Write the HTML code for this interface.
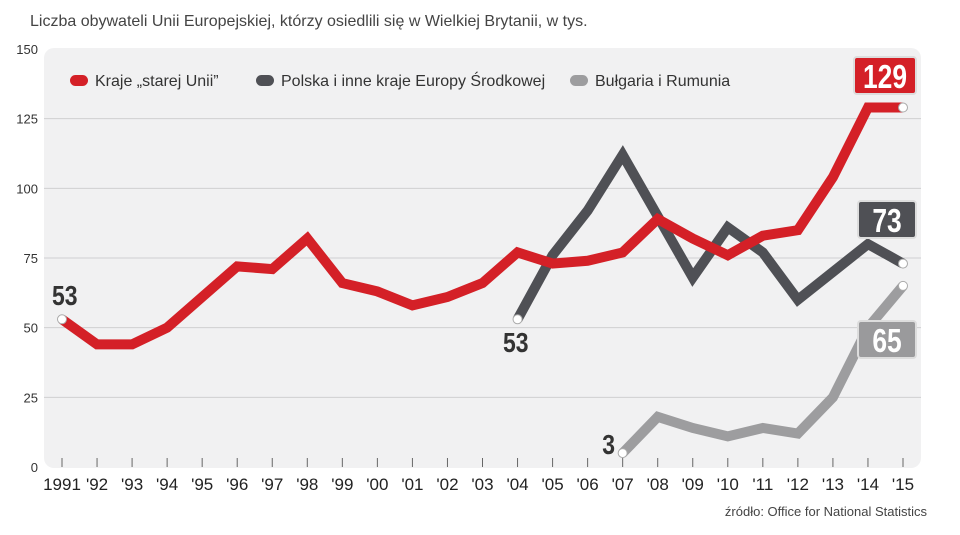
<!DOCTYPE html>
<html><head><meta charset="utf-8">
<style>
body{margin:0;background:#fff;width:960px;height:535px;overflow:hidden;font-family:"Liberation Sans",sans-serif;}
svg{display:block}
</style></head>
<body>
<svg id="chart" width="960" height="535" viewBox="0 0 960 535" xmlns="http://www.w3.org/2000/svg">
<text x="30" y="26" font-size="16" fill="#444" font-family="Liberation Sans, sans-serif">Liczba obywateli Unii Europejskiej, którzy osiedlili się w Wielkiej Brytanii, w tys.</text>
<rect x="44" y="48" width="877" height="420" rx="10" fill="#f1f1f2"/>
<g id="grid"></g>
<g id="lines"></g>
<g id="legend"></g>
<text x="927" y="516" font-size="13" fill="#444" text-anchor="end">źródło: Office for National Statistics</text>
</svg>
<script>
const years = ['1991',"'92","'93","'94","'95","'96","'97","'98","'99","'00","'01","'02","'03","'04","'05","'06","'07","'08","'09","'10","'11","'12","'13","'14","'15"];
const yTicks = [0,25,50,75,100,125,150];
const oldEU = [53,44,44,50,61,72,71,82,66,63,58,61,66,77,73,74,77,89,82,76,83,85,104,129,129];
const centralEU = [null,null,null,null,null,null,null,null,null,null,null,null,null,53,76,92,112,90,68,86,77,60,70,80,73];
const bgRo = [null,null,null,null,null,null,null,null,null,null,null,null,null,null,null,null,5,18,14,11,14,12,25,50,65];
const startLabels = ['53','53','3'];
const endLabels = ['129','73','65'];
const legendNames = ['Kraje „starej Unii”','Polska i inne kraje Europy Środkowej','Bułgaria i Rumunia'];

const NS='http://www.w3.org/2000/svg';
const x0=62,x1=903,yBase=467,yTop=49;
const xs=i=>x0+(x1-x0)*i/(years.length-1);
const ys=v=>yBase-(yBase-yTop)*v/150;
function mk(tag,attrs,parent){const e=document.createElementNS(NS,tag);for(const k in attrs)e.setAttribute(k,attrs[k]);parent.appendChild(e);return e;}
const grid=document.getElementById('grid');
yTicks.forEach(t=>{
  if(t>0&&t<150){const l=mk('line',{x1:44,x2:921,y1:ys(t),y2:ys(t),stroke:'#cfcfd1','stroke-width':1},grid);
  
  }
  const tx=mk('text',{x:38,y:ys(t)+5,'font-size':13,fill:'#333','text-anchor':'end'},grid);
  tx.textContent=t;
  
  
});
years.forEach((y,i)=>{
  const l=mk('line',{x1:xs(i),x2:xs(i),y1:458,y2:467,stroke:'#666','stroke-width':1},grid);
  
  
  const tx=mk('text',{x:xs(i),y:490,'font-size':17,fill:'#222','text-anchor':'middle'},grid);
  tx.textContent=y;
  
  
});
const series=[
 {d:oldEU,c:'#d42027',lbl:'#d42027',name:'old-eu',sl:[52,305],ed:[854,57],w:62},
 {d:centralEU,c:'#4f5055',lbl:'#4f5055',name:'central-europe',sl:[503,352],ed:[858,201],w:58},
 {d:bgRo,c:'#9d9d9f',lbl:'#9a9a9c',name:'bulgaria-romania',sl:[615,454],ed:[858,321],w:58}
];
const lines=document.getElementById('lines');
[2,1,0].forEach(si=>{
  const s=series[si];
  const pts=[];s.d.forEach((v,i)=>{if(v!==null)pts.push([xs(i),ys(v)]);});
  const p=mk('polyline',{points:pts.map(p=>p.join(',')).join(' '),fill:'none',stroke:s.c,'stroke-width':10,'stroke-linejoin':'miter','stroke-linecap':'butt'},lines);
  
  
  [pts[0],pts[pts.length-1]].forEach(q=>{
    const c=mk('circle',{cx:q[0],cy:q[1],r:4.5,fill:'#fff',stroke:'#aaa','stroke-width':1},lines);
    
    
  });
  const anchor=si==2?'end':'start';
  const st=mk('text',{x:0,y:0,'font-size':28,'font-weight':'bold',fill:'#333','text-anchor':anchor,transform:'translate('+s.sl[0]+','+s.sl[1]+') scale(0.82,1)'},lines);
  st.textContent=startLabels[si];
  
  
  const w=s.w;
  const r=mk('rect',{x:s.ed[0],y:s.ed[1],width:w,height:37,rx:3,fill:s.lbl,stroke:'#ddd','stroke-width':2},lines);
  
  
  const et=mk('text',{x:0,y:0,'font-size':33,'font-weight':'bold',fill:'#fff','text-anchor':'middle',transform:'translate('+(s.ed[0]+w/2)+','+(s.ed[1]+31)+') scale(0.8,1)'},lines);
  et.textContent=endLabels[si];
  
  
});
const legend=document.getElementById('legend');
const lx=[70,256,570];
series.forEach((s,i)=>{
  const r=mk('rect',{x:lx[i],y:75,width:18,height:11,rx:5.5,fill:s.c},legend);
  
  
  const t=mk('text',{x:lx[i]+25,y:86,'font-size':16,fill:'#333'},legend);
  t.textContent=legendNames[i];
  
  
});
</script>
</body></html>
